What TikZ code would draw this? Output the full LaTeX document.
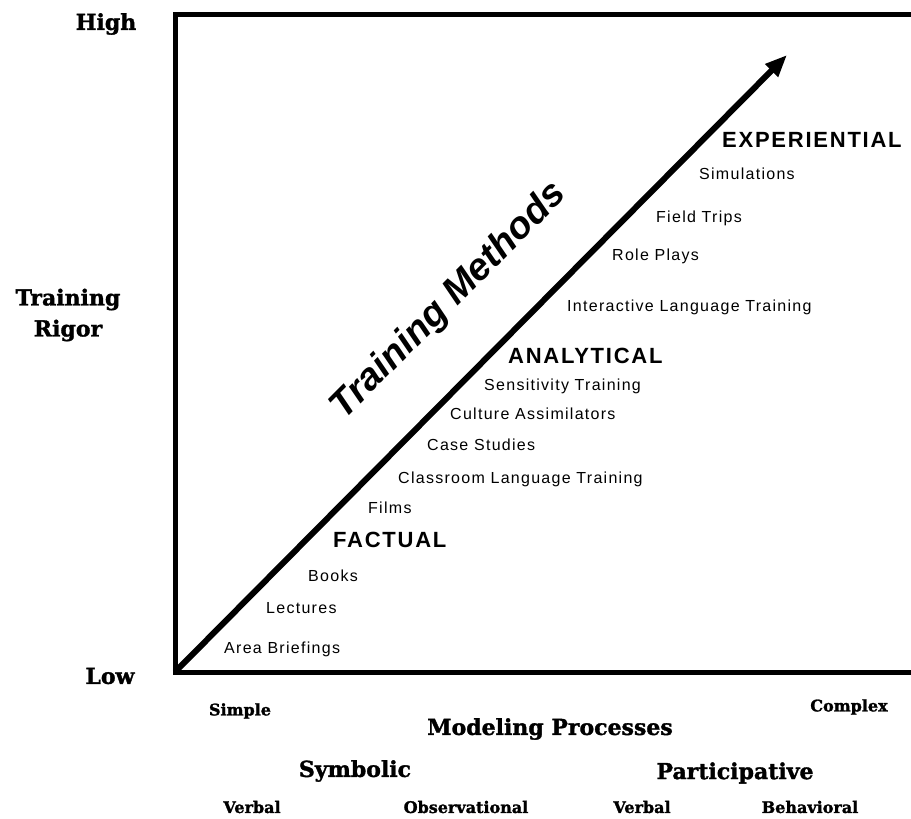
\documentclass[tikz,border=0pt]{standalone}
\usepackage{fontspec}
\setmainfont{Liberation Sans}
\newfontfamily\labfont[LetterSpace=8]{Liberation Sans}
\newfontfamily\slabfont[BoldFeatures={FakeBold=1.5}]{DejaVu Serif}
\usetikzlibrary{arrows.meta}
\tikzset{
  item/.style={anchor=west, inner sep=0pt, font=\labfont\fontsize{16}{18}\selectfont},
  cat/.style={anchor=west, inner sep=0pt, font=\labfont\bfseries\fontsize{22}{24}\selectfont},
  axisbig/.style={inner sep=0pt, font=\slabfont\bfseries\fontsize{22}{31}\selectfont, align=center},
  axissmall/.style={inner sep=0pt, font=\slabfont\bfseries\fontsize{16}{18}\selectfont},
  frame/.style={line width=5pt, line join=miter},
  mainarrow/.style={line width=6pt, -{Triangle[length=22pt,width=17pt]}}
}
\begin{document}
\begin{tikzpicture}[x=1pt,y=-1pt]
\useasboundingbox (0,0) rectangle (911,819);
% frame
\coordinate (tr) at (915,14);
\coordinate (tl) at (175,14);
\coordinate (bl) at (175,672);
\coordinate (br) at (915,672);
\draw[frame] (tr) -- (tl) -- (bl) -- (br);
% arrow
\coordinate (tip) at (787,55);
\draw[mainarrow] (bl) -- (tip);
\node[inner sep=0pt, rotate=45.2, font=\bfseries\itshape\fontsize{38}{40}\selectfont] (tm) at (449,301) {Training Methods};
% categories and items
\node[cat] (exp) at (722,140) {EXPERIENTIAL};
\node[item] (sim) at (699,174) {Simulations};
\node[item] (ft) at (656,218) {Field Trips};
\node[item] (rp) at (612,256) {Role Plays};
\node[item] (ilt) at (567,307) {Interactive Language Training};
\node[cat] (ana) at (508,356) {ANALYTICAL};
\node[item] (st) at (484,386) {Sensitivity Training};
\node[item] (ca) at (450,414) {Culture Assimilators};
\node[item] (cs) at (427,445) {Case Studies};
\node[item] (clt) at (398,479) {Classroom Language Training};
\node[item] (films) at (368,508) {Films};
\node[cat] (fac) at (333,540) {FACTUAL};
\node[item] (books) at (308,576) {Books};
\node[item] (lect) at (266,608) {Lectures};
\node[item] (ab) at (224,649) {Area Briefings};
% vertical axis labels
\node[axisbig] (high) at (106,24) {High};
\node[axisbig] (rigor) at (68,315) {Training\\Rigor};
\node[axisbig] (low) at (110,676) {Low};
% horizontal axis labels
\node[axissmall] (simple) at (240,711) {Simple};
\node[axissmall] (complex) at (849,707) {Complex};
\node[axisbig] (mp) at (550,729) {Modeling Processes};
\node[axisbig] (sym) at (355,771) {Symbolic};
\node[axisbig] (part) at (735,773) {Participative};
\node[axissmall] (v1) at (252,807) {Verbal};
\node[axissmall] (obs) at (466,807) {Observational};
\node[axissmall] (v2) at (642,807) {Verbal};
\node[axissmall] (beh) at (810,807) {Behavioral};
\end{tikzpicture}
\end{document}
